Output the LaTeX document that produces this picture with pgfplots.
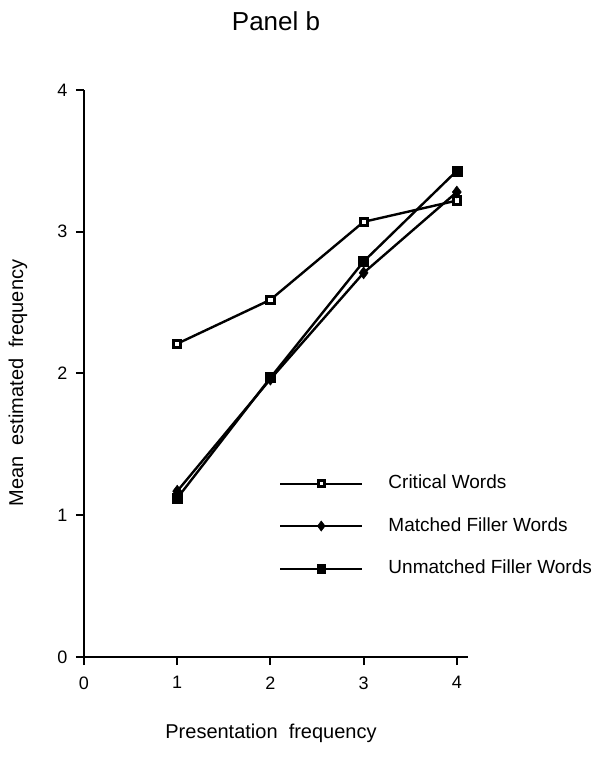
\documentclass[border=0pt]{standalone}
\usepackage{fontspec}
\setmainfont{Liberation Sans}
\usepackage{pgfplots}
\pgfplotsset{compat=1.18}
\begin{document}
\begin{tikzpicture}[x=1pt,y=1pt]
\path[use as bounding box] (0,0) rectangle (595,768);
\begin{axis}[
  at={(84pt,111pt)}, anchor=south west,
  scale only axis, width=384pt, height=567pt,
  xmin=0, xmax=4.12, ymin=0, ymax=4,
  axis x line=bottom, axis y line=left,
  axis line style={-, line width=2.2pt, black},
  xtick={0,1,2,3,4}, ytick={0,1,2,3,4},
  tick align=outside, major tick length=8pt,
  tick style={line width=2pt, black},
  /pgf/number format/assume math mode=true,
  tick label style={font=\fontsize{18}{21}\selectfont},
  xticklabel style={yshift=-8pt},
  yticklabel style={xshift=-5pt},
  title={Panel b},
  title style={at={(0.5,1.111)}, anchor=center, font=\fontsize{26}{30}\selectfont},
  xlabel={Presentation\ \ frequency},
  xlabel style={at={(0.487,-0.134)}, anchor=center, font=\fontsize{20}{24}\selectfont},
  ylabel={Mean\ \ estimated\ \ frequency},
  ylabel style={at={(-0.172,0.483)}, anchor=center, rotate=0, font=\fontsize{20}{24}\selectfont},
  legend image code/.code={
    \draw[#1, line width=2pt, mark repeat=2, mark phase=2, /tikz/every mark/.append style={scale=0.85}] plot coordinates {(0pt,0pt) (41pt,0pt) (82pt,0pt)};
    \path (107pt,0pt);
  },
  legend cell align=left,
  legend style={draw=none, fill=none, at={(0.508,0.231)}, anchor=west,
    inner sep=0pt, row sep=24.5pt, column sep=0pt,
    font=\fontsize{19}{22}\selectfont,
    nodes={inner sep=0pt, text height=14pt, text depth=4pt}},
]
\addplot[black, line width=2.4pt, mark=square*, mark size=3.6pt,
  mark options={solid, fill=white, line width=3pt}]
  coordinates {(1,2.21) (2,2.52) (3,3.07) (4,3.22)};
\addlegendentry{Critical Words}
\addplot[black, line width=2.4pt, mark=diamond*, mark size=6pt,
  mark options={solid, fill=black, line width=0.5pt}]
  coordinates {(1,1.17) (2,1.96) (3,2.71) (4,3.28)};
\addlegendentry{Matched Filler Words}
\addplot[black, line width=2.4pt, mark=square*, mark size=5pt,
  mark options={solid, fill=black, line width=0.5pt}]
  coordinates {(1,1.12) (2,1.97) (3,2.79) (4,3.43)};
\addlegendentry{Unmatched Filler Words}
\end{axis}
\end{tikzpicture}
\end{document}
